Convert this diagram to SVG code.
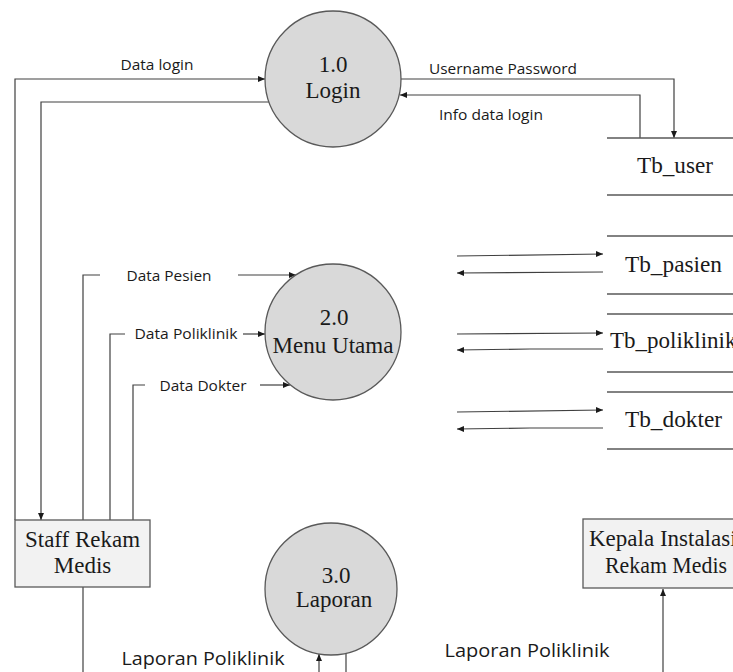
<svg xmlns="http://www.w3.org/2000/svg" width="733" height="672" viewBox="0 0 733 672">
  <style>
    .proc { fill: #d9d9d9; stroke: #595959; stroke-width: 1.3; }
    .ent { fill: #f2f2f2; stroke: #595959; stroke-width: 1.3; }
    .store { stroke: #595959; stroke-width: 1.3; fill: none; }
    .flow { fill: none; stroke: #404040; stroke-width: 1.2; }
    .serif { font-family: "Liberation Serif", "DejaVu Serif", serif; font-size: 23px; fill: #1a1a1a; }
    .sans { font-family: "Open Sans", "Noto Sans", sans-serif; font-size: 15px; fill: #1a1a1a; }
    .big { font-size: 18px; }
  </style>
  <defs>
    <marker id="arrow" markerWidth="8" markerHeight="8" refX="7" refY="4" orient="auto" markerUnits="userSpaceOnUse">
      <path d="M0,1 L7,4 L0,7 Z" fill="#1a1a1a"/>
    </marker>
  </defs>
  <rect width="733" height="672" fill="#ffffff"/>

  <!-- connectors -->
  <g id="connectors">
    <!-- login flows -->
    <path class="flow" d="M15,520 V79 H265" marker-end="url(#arrow)"/>
    <path class="flow" d="M269,102 H41 V520" marker-end="url(#arrow)"/>
    <path class="flow" d="M401,79 H674 V138" marker-end="url(#arrow)"/>
    <path class="flow" d="M640,138 V95 H400" marker-end="url(#arrow)"/>
    <!-- staff to menu utama -->
    <path class="flow" d="M83,520 V275 H100"/>
    <path class="flow" d="M238,275 H296" marker-end="url(#arrow)"/>
    <path class="flow" d="M110,520 V334 H125"/>
    <path class="flow" d="M243,334 H265" marker-end="url(#arrow)"/>
    <path class="flow" d="M133,520 V385 H145"/>
    <path class="flow" d="M260,385 H290" marker-end="url(#arrow)"/>
    <!-- data stores -->
    <path class="flow" d="M457,256 L603,254" marker-end="url(#arrow)"/>
    <path class="flow" d="M603,272 L457,273" marker-end="url(#arrow)"/>
    <path class="flow" d="M457,334 L603,333" marker-end="url(#arrow)"/>
    <path class="flow" d="M603,349 H530 L457,350" marker-end="url(#arrow)"/>
    <path class="flow" d="M457,412 L603,410" marker-end="url(#arrow)"/>
    <path class="flow" d="M603,428 H530 L457,429" marker-end="url(#arrow)"/>
    <!-- reports -->
    <path class="flow" d="M83,587 V672"/>
    <path class="flow" d="M319,672 V654" marker-end="url(#arrow)"/>
    <path class="flow" d="M346,653 V672"/>
    <path class="flow" d="M663,672 V589" marker-end="url(#arrow)"/>
  </g>

  <!-- flow labels -->
  <g id="labels">
    <text class="sans" x="157" y="70" text-anchor="middle" textLength="73" lengthAdjust="spacingAndGlyphs">Data login</text>
    <text class="sans" x="503" y="74" text-anchor="middle" textLength="148" lengthAdjust="spacingAndGlyphs">Username Password</text>
    <text class="sans" x="491" y="120" text-anchor="middle" textLength="104" lengthAdjust="spacingAndGlyphs">Info data login</text>
    <text class="sans" x="169" y="281" text-anchor="middle" textLength="85" lengthAdjust="spacingAndGlyphs">Data Pesien</text>
    <text class="sans" x="186" y="339" text-anchor="middle" textLength="103" lengthAdjust="spacingAndGlyphs">Data Poliklinik</text>
    <text class="sans" x="203" y="391" text-anchor="middle" textLength="87" lengthAdjust="spacingAndGlyphs">Data Dokter</text>
    <text class="sans big" x="203" y="665" text-anchor="middle" textLength="163" lengthAdjust="spacingAndGlyphs">Laporan Poliklinik</text>
    <text class="sans big" x="527" y="657" text-anchor="middle" textLength="165" lengthAdjust="spacingAndGlyphs">Laporan Poliklinik</text>
  </g>

  <!-- processes -->
  <g id="p1">
    <circle class="proc" cx="333" cy="79" r="68"/>
    <text class="serif" x="333" y="72" text-anchor="middle">1.0</text>
    <text class="serif" x="333" y="98" text-anchor="middle">Login</text>
  </g>
  <g id="p2">
    <circle class="proc" cx="333" cy="332" r="68"/>
    <text class="serif" x="334" y="325" text-anchor="middle">2.0</text>
    <text class="serif" x="333" y="353" text-anchor="middle" textLength="121" lengthAdjust="spacingAndGlyphs">Menu Utama</text>
  </g>
  <g id="p3">
    <circle class="proc" cx="331" cy="589" r="66"/>
    <text class="serif" x="336" y="583" text-anchor="middle">3.0</text>
    <text class="serif" x="334" y="607" text-anchor="middle">Laporan</text>
  </g>

  <!-- data stores -->
  <g id="tb_user">
    <path class="store" d="M607,138 H733 M607,195 H733"/>
    <text class="serif" x="637" y="173" textLength="76" lengthAdjust="spacingAndGlyphs">Tb_user</text>
  </g>
  <g id="tb_pasien">
    <path class="store" d="M607,236 H733 M607,294 H733"/>
    <text class="serif" x="625" y="272" textLength="97" lengthAdjust="spacingAndGlyphs">Tb_pasien</text>
  </g>
  <g id="tb_poliklinik">
    <path class="store" d="M607,314 H733 M607,372 H733"/>
    <text class="serif" x="610" y="348">Tb_poliklinik</text>
  </g>
  <g id="tb_dokter">
    <path class="store" d="M607,392 H733 M607,449 H733"/>
    <text class="serif" x="625" y="427" textLength="97" lengthAdjust="spacingAndGlyphs">Tb_dokter</text>
  </g>

  <!-- external entities -->
  <g id="staff">
    <rect class="ent" x="15" y="520" width="135" height="67"/>
    <text class="serif" x="82.5" y="547" text-anchor="middle" textLength="115" lengthAdjust="spacingAndGlyphs">Staff Rekam</text>
    <text class="serif" x="82.5" y="573" text-anchor="middle">Medis</text>
  </g>
  <g id="kepala">
    <rect class="ent" x="583" y="519" width="160" height="69"/>
    <text class="serif" x="589" y="546">Kepala Instalasi</text>
    <text class="serif" x="605" y="573" textLength="122" lengthAdjust="spacingAndGlyphs">Rekam Medis</text>
  </g>
</svg>
